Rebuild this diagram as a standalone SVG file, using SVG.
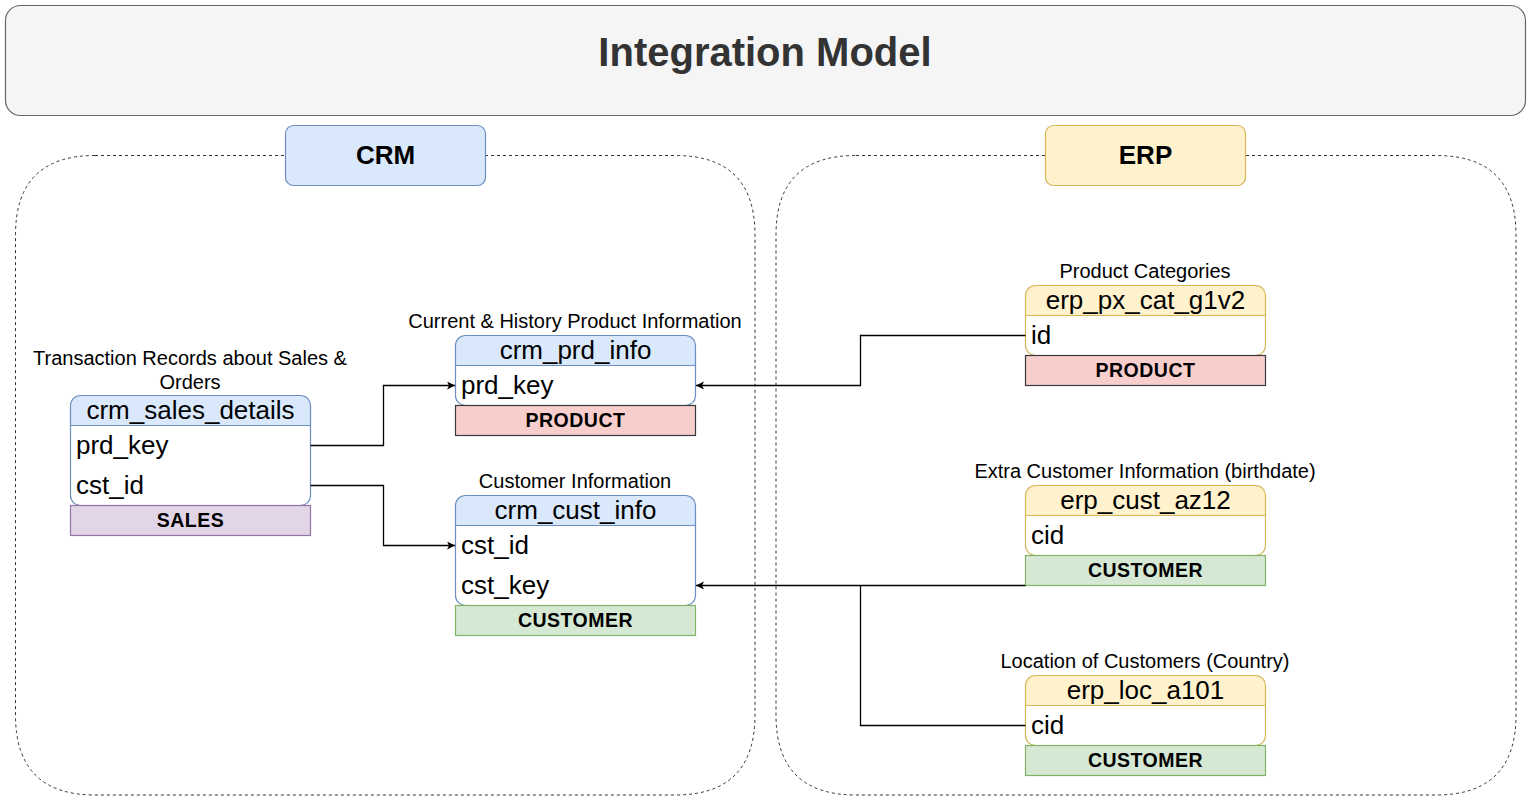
<svg xmlns="http://www.w3.org/2000/svg" width="1531" height="802" viewBox="0 0 1531 802">
<style>
text{font-family:"Liberation Sans",Arial,sans-serif;dominant-baseline:central;fill:#000}
.title{font-size:40px;font-weight:bold;fill:#333;text-anchor:middle}
.grp{font-size:26px;font-weight:bold;text-anchor:middle}
.lbl{font-size:20px;text-anchor:middle}
.hdr{font-size:26px;text-anchor:middle}
.row{font-size:26px}
.tag{font-size:19.5px;font-weight:bold;text-anchor:middle;letter-spacing:0.5px}
.cont{fill:none;stroke:#333;stroke-width:1;stroke-dasharray:3 3}
.crmH{fill:#dae8fc}
.erpH{fill:#fff2cc}
.crmO{fill:none;stroke:#6c8ebf;stroke-width:1.2}
.erpO{fill:none;stroke:#d6b656;stroke-width:1.2}
.body{fill:#fff;stroke:none}
.prod{fill:#f8cecc;stroke:#36393d;stroke-width:1.2}
.cust{fill:#d5e8d4;stroke:#82b366;stroke-width:1.2}
.sales{fill:#e1d5e7;stroke:#9673a6;stroke-width:1.2}
.conn path{fill:none;stroke:#000;stroke-width:1.3;marker-end:url(#arr)}
.conn path.nm{marker-end:none}
</style>
<defs>
<marker id="arr" markerUnits="userSpaceOnUse" markerWidth="10" markerHeight="10" refX="8" refY="4" orient="auto">
<path d="M0,0 L8,4 L0,8 L2,4 Z" fill="#000"/>
</marker>
</defs>
<rect width="1531" height="802" fill="#fff"/>

<g id="title">
<rect x="5.5" y="5.5" width="1520" height="110" rx="15" fill="#f5f5f5" stroke="#666" stroke-width="1.2"/>
<text class="title" x="765" y="52">Integration Model</text>
</g>

<g id="crm-container">
<path class="cont" d="M95,155.5 H675 Q755,155.5 755,235 V715 Q755,795 675,795 H95 Q15.5,795 15.5,715 V235 Q15.5,155.5 95,155.5 Z"/>
</g>
<g id="erp-container">
<path class="cont" d="M856,155.5 H1436 Q1516,155.5 1516,235 V715 Q1516,795 1436,795 H856 Q776,795 776,715 V235 Q776,155.5 856,155.5 Z"/>
</g>
<g id="crm-label">
<rect x="285.5" y="125.5" width="200" height="60" rx="8" fill="#dae8fc" stroke="#6c8ebf" stroke-width="1.2"/>
<text class="grp" x="385.5" y="155">CRM</text>
</g>
<g id="erp-label">
<rect x="1045.5" y="125.5" width="200" height="60" rx="8" fill="#fff2cc" stroke="#d6b656" stroke-width="1.2"/>
<text class="grp" x="1145.5" y="155">ERP</text>
</g>

<g id="crm_sales_details">
<text class="lbl" x="190" y="358">Transaction Records about Sales &amp;</text>
<text class="lbl" x="190" y="382">Orders</text>
<rect class="body" x="70.5" y="395.5" width="240" height="110" rx="10"/>
<path class="crmH" d="M70.5,425.5 V405.5 Q70.5,395.5 80.5,395.5 H300.5 Q310.5,395.5 310.5,405.5 V425.5 Z"/>
<line x1="70.5" y1="425.5" x2="310.5" y2="425.5" stroke="#6c8ebf" stroke-width="1.2"/>
<rect class="crmO" x="70.5" y="395.5" width="240" height="110" rx="10"/>
<text class="hdr" x="190.5" y="410">crm_sales_details</text>
<text class="row" x="76" y="445">prd_key</text>
<text class="row" x="76" y="485">cst_id</text>
<rect class="sales" x="70.5" y="505.5" width="240" height="30"/>
<text class="tag" x="190.5" y="520">SALES</text>
</g>

<g id="crm_prd_info">
<text class="lbl" x="575" y="321">Current &amp; History Product Information</text>
<rect class="body" x="455.5" y="335.5" width="240" height="70" rx="10"/>
<path class="crmH" d="M455.5,365.5 V345.5 Q455.5,335.5 465.5,335.5 H685.5 Q695.5,335.5 695.5,345.5 V365.5 Z"/>
<line x1="455.5" y1="365.5" x2="695.5" y2="365.5" stroke="#6c8ebf" stroke-width="1.2"/>
<rect class="crmO" x="455.5" y="335.5" width="240" height="70" rx="10"/>
<text class="hdr" x="575.5" y="350">crm_prd_info</text>
<text class="row" x="461" y="385">prd_key</text>
<rect class="prod" x="455.5" y="405.5" width="240" height="30"/>
<text class="tag" x="575.5" y="420">PRODUCT</text>
</g>

<g id="crm_cust_info">
<text class="lbl" x="575" y="481">Customer Information</text>
<rect class="body" x="455.5" y="495.5" width="240" height="110" rx="10"/>
<path class="crmH" d="M455.5,525.5 V505.5 Q455.5,495.5 465.5,495.5 H685.5 Q695.5,495.5 695.5,505.5 V525.5 Z"/>
<line x1="455.5" y1="525.5" x2="695.5" y2="525.5" stroke="#6c8ebf" stroke-width="1.2"/>
<rect class="crmO" x="455.5" y="495.5" width="240" height="110" rx="10"/>
<text class="hdr" x="575.5" y="510">crm_cust_info</text>
<text class="row" x="461" y="545">cst_id</text>
<text class="row" x="461" y="585">cst_key</text>
<rect class="cust" x="455.5" y="605.5" width="240" height="30"/>
<text class="tag" x="575.5" y="620">CUSTOMER</text>
</g>

<g id="erp_px_cat_g1v2">
<text class="lbl" x="1145" y="271">Product Categories</text>
<rect class="body" x="1025.5" y="285.5" width="240" height="70" rx="10"/>
<path class="erpH" d="M1025.5,315.5 V295.5 Q1025.5,285.5 1035.5,285.5 H1255.5 Q1265.5,285.5 1265.5,295.5 V315.5 Z"/>
<line x1="1025.5" y1="315.5" x2="1265.5" y2="315.5" stroke="#d6b656" stroke-width="1.2"/>
<rect class="erpO" x="1025.5" y="285.5" width="240" height="70" rx="10"/>
<text class="hdr" x="1145.5" y="300">erp_px_cat_g1v2</text>
<text class="row" x="1031" y="335">id</text>
<rect class="prod" x="1025.5" y="355.5" width="240" height="30"/>
<text class="tag" x="1145.5" y="370">PRODUCT</text>
</g>

<g id="erp_cust_az12">
<text class="lbl" x="1145" y="471">Extra Customer Information (birthdate)</text>
<rect class="body" x="1025.5" y="485.5" width="240" height="70" rx="10"/>
<path class="erpH" d="M1025.5,515.5 V495.5 Q1025.5,485.5 1035.5,485.5 H1255.5 Q1265.5,485.5 1265.5,495.5 V515.5 Z"/>
<line x1="1025.5" y1="515.5" x2="1265.5" y2="515.5" stroke="#d6b656" stroke-width="1.2"/>
<rect class="erpO" x="1025.5" y="485.5" width="240" height="70" rx="10"/>
<text class="hdr" x="1145.5" y="500">erp_cust_az12</text>
<text class="row" x="1031" y="535">cid</text>
<rect class="cust" x="1025.5" y="555.5" width="240" height="30"/>
<text class="tag" x="1145.5" y="570">CUSTOMER</text>
</g>

<g id="erp_loc_a101">
<text class="lbl" x="1145" y="661">Location of Customers (Country)</text>
<rect class="body" x="1025.5" y="675.5" width="240" height="70" rx="10"/>
<path class="erpH" d="M1025.5,705.5 V685.5 Q1025.5,675.5 1035.5,675.5 H1255.5 Q1265.5,675.5 1265.5,685.5 V705.5 Z"/>
<line x1="1025.5" y1="705.5" x2="1265.5" y2="705.5" stroke="#d6b656" stroke-width="1.2"/>
<rect class="erpO" x="1025.5" y="675.5" width="240" height="70" rx="10"/>
<text class="hdr" x="1145.5" y="690">erp_loc_a101</text>
<text class="row" x="1031" y="725">cid</text>
<rect class="cust" x="1025.5" y="745.5" width="240" height="30"/>
<text class="tag" x="1145.5" y="760">CUSTOMER</text>
</g>

<g id="connectors" class="conn">
<path d="M310.5,445.5 H383.5 V385.5 H455"/>
<path d="M310.5,485.5 H383.5 V545.5 H455"/>
<path d="M1025.5,335.5 H860.5 V385.5 H696"/>
<path d="M1025.5,585.5 H696"/>
<path class="nm" d="M1025.5,725.5 H860.5 V585.5"/>
</g>
</svg>
